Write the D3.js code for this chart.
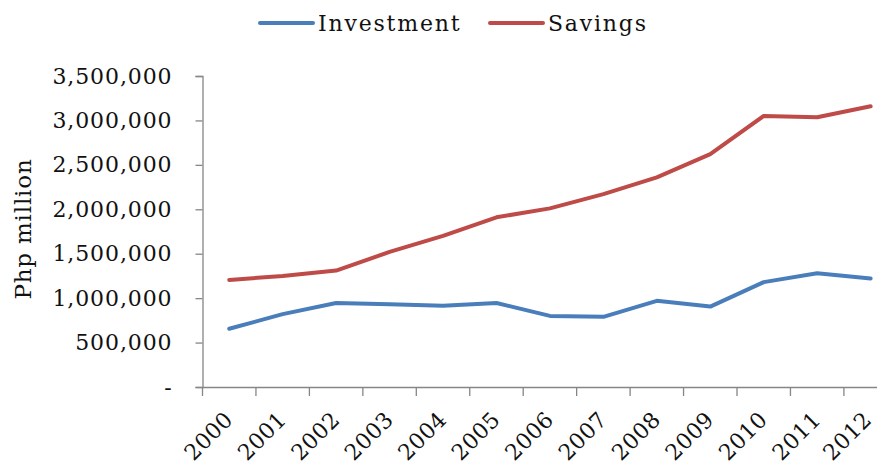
<!DOCTYPE html>
<html>
<head>
<meta charset="utf-8">
<script src="https://cdn.jsdelivr.net/npm/d3@7"></script>
<style>
  html, body { margin: 0; padding: 0; background: #fff; }
  svg { display: block; }
  text { font-family: "DejaVu Serif", "Liberation Serif", serif; fill: #111; }
</style>
</head>
<body>
<svg id="chart" width="877" height="466"></svg>
<script>
// Annual figures, Php million
const years = ["2000","2001","2002","2003","2004","2005","2006","2007","2008","2009","2010","2011","2012"];
const investment = [655000, 820000, 945000, 930000, 915000, 945000, 800000, 790000, 970000, 905000, 1180000, 1280000, 1220000];
const savings = [1205000, 1250000, 1310000, 1520000, 1700000, 1910000, 2010000, 2170000, 2360000, 2620000, 3050000, 3035000, 3160000];
const yTicks = [0, 500000, 1000000, 1500000, 2000000, 2500000, 3000000, 3500000];
const seriesNames = ["Investment", "Savings"];
const seriesColors = ["#4a7ebb", "#be4b48"];

const svg = d3.select("#chart");
const plotLeft = 202.5, plotTop = 76, plotBottom = 387;
const band = 53.45;

const x = d3.scaleBand().domain(years).range([plotLeft, plotLeft + band * years.length]).paddingInner(0).paddingOuter(0);
const y = d3.scaleLinear().domain([0, 3500000]).range([plotBottom, plotTop]);

const axisColor = "#868686";
const fmt = d3.format(",");

// Y axis
const yAxis = svg.append("g").attr("transform", `translate(${plotLeft},0)`)
  .call(d3.axisLeft(y).tickValues(yTicks).tickSize(7).tickPadding(23)
    .tickFormat(d => d === 0 ? "-" : fmt(d)));
yAxis.select(".domain").attr("stroke", axisColor).attr("stroke-width", 1.3);
yAxis.selectAll(".tick line").attr("stroke", axisColor).attr("stroke-width", 1.3);
yAxis.selectAll(".tick text")
  .attr("font-size", 22).attr("letter-spacing", 0.9)
  .attr("font-family", "DejaVu Serif").attr("fill", "#111");

// X axis
const xAxis = svg.append("g").attr("transform", `translate(0,${plotBottom})`)
  .call(d3.axisBottom(x).tickSize(0).tickFormat(""));
xAxis.select(".domain").attr("stroke", axisColor).attr("stroke-width", 1.3);
// category boundary ticks
const edges = years.map(d => x(d)).concat([plotLeft + band * years.length]);
svg.append("g").selectAll("line").data(edges).join("line")
  .attr("x1", d => d).attr("x2", d => d)
  .attr("y1", plotBottom).attr("y2", plotBottom + 9)
  .attr("stroke", axisColor).attr("stroke-width", 1.3);

svg.append("g").selectAll("text").data(years).join("text")
  .attr("transform", d => `translate(${Math.min(x(d) + x.bandwidth() / 2 + 5, 873)},${plotBottom + 34}) rotate(-45)`)
  .attr("text-anchor", "end")
  .attr("font-size", 22)
  .attr("letter-spacing", 0.4)
  .text(d => d);

// Y axis title
svg.append("text")
  .attr("transform", "translate(31,229) rotate(-90)")
  .attr("text-anchor", "middle")
  .attr("font-size", 23)
  .attr("letter-spacing", 0.8)
  .text("Php million");

// Lines
const line = d3.line().x((d, i) => x(years[i]) + x.bandwidth() / 2).y(d => y(d));
[investment, savings].forEach((vals, k) => {
  svg.append("path").datum(vals)
    .attr("d", line)
    .attr("fill", "none")
    .attr("stroke", seriesColors[k])
    .attr("stroke-width", 4)
    .attr("stroke-linejoin", "round")
    .attr("stroke-linecap", "round");
});

// Legend
const legendX = [260, 490];
seriesNames.forEach((name, k) => {
  const g = svg.append("g").attr("transform", `translate(${legendX[k]},23)`);
  g.append("line").attr("x1", 0).attr("x2", 53).attr("y1", 0).attr("y2", 0)
    .attr("stroke", seriesColors[k]).attr("stroke-width", 4).attr("stroke-linecap", "round");
  g.append("text").attr("x", 58).attr("y", 8).attr("font-size", 22)
    .attr("letter-spacing", 1.8).text(name);
});
</script>
</body>
</html>
